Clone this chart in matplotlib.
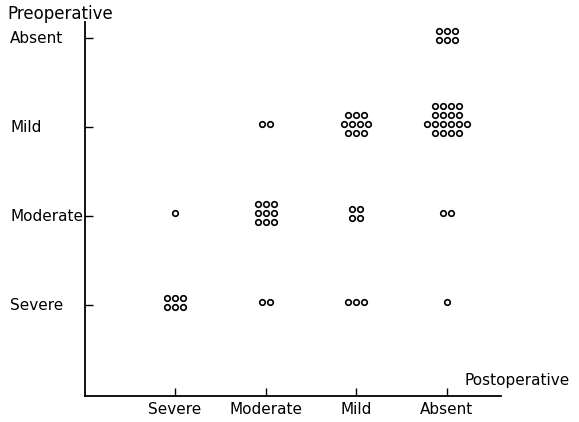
import matplotlib
matplotlib.use('Agg')
import matplotlib.pyplot as plt
from matplotlib.transforms import offset_copy, blended_transform_factory

grades = ['Severe', 'Moderate', 'Mild', 'Absent']

# number of patients: rows = preoperative grade, cols = postoperative grade
counts = [
    [6, 2, 3, 1],    # pre Severe
    [1, 9, 4, 2],    # pre Moderate
    [0, 2, 10, 18],  # pre Mild
    [0, 0, 0, 6],    # pre Absent
]

# how the circles of each cell are stacked, top row first
rows = {
    (0, 0): [3, 3], (0, 1): [2], (0, 2): [3], (0, 3): [1],
    (1, 0): [1], (1, 1): [3, 3, 3], (1, 2): [2, 2], (1, 3): [2],
    (2, 1): [2], (2, 2): [3, 4, 3], (2, 3): [4, 4, 6, 4],
    (3, 3): [3, 3],
}

plt.rc('font', family='DejaVu Sans', size=11)

fig = plt.figure(figsize=(5.79, 4.22), dpi=100, facecolor='white')
ax = fig.add_axes([85/579, 26/422, 416/579, 374/422])
ax.spines['right'].set_visible(False)
ax.spines['top'].set_visible(False)
for s in ['left', 'bottom']:
    ax.spines[s].set_linewidth(1.3)

ax.set_xlim(0.007, 4.596)
ax.set_ylim(-0.022, 4.18)
ax.set_xticks(range(1, 5))
ax.set_yticks(range(1, 5))
ax.tick_params(axis='both', which='major', direction='in', length=6, width=1,
               labelbottom=False, labelleft=False)

dx, dy = 8, 9  # spacing of circles in pixels
for i in range(4):
    for j in range(4):
        n = counts[i][j]
        if n == 0:
            continue
        layout = rows[(i, j)]
        assert sum(layout) == n
        # big stacks sit a little higher than the row line
        top = (len(layout) - 1) * dy / 2 + 3 + (len(layout) > 3) * 5
        for r, k in enumerate(layout):
            for c in range(k):
                ox = (c - (k - 1) / 2) * dx
                oy = top - r * dy
                tr = offset_copy(ax.transData, fig=fig, x=ox, y=oy, units='dots')
                ax.plot(j + 1, i + 1, 'o', ms=4, mfc='white', mec='black',
                        mew=1.2, transform=tr, clip_on=False)

# category labels
ylab = blended_transform_factory(fig.transFigure, ax.transData)
for i, g in enumerate(grades):
    ax.text(10/579, i + 1, g, transform=ylab, ha='left', va='center')
    ax.text(i + 1, -0.17, g, ha='center', va='center')

fig.text(7/579, 1 - 14/422, 'Preoperative', ha='left', va='center', fontsize=12)
fig.text(465/579, 1 - 381/422, 'Postoperative', ha='left', va='center')

fig.savefig('out.png', dpi=100, facecolor='white')
